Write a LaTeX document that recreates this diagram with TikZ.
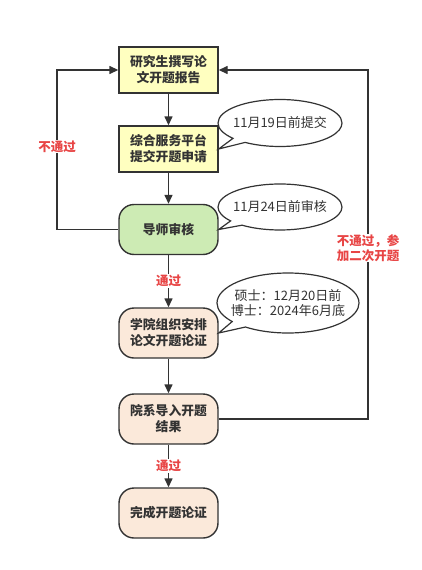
\documentclass[tikz,border=0pt]{standalone}
\usepackage{fontspec}
\setmainfont{Noto Sans CJK SC}
\usetikzlibrary{shapes.callouts,arrows.meta}
\definecolor{boxyellow}{HTML}{FFFFC0}
\definecolor{boxgreen}{HTML}{CDEBB4}
\definecolor{boxpeach}{HTML}{FBE9DA}
\definecolor{linegray}{HTML}{333333}
\definecolor{labelred}{HTML}{E84545}
\begin{document}
\begin{tikzpicture}[x=1pt,y=-1pt,
  base/.style={draw=linegray,line width=1.4pt,minimum width=99pt,minimum height=46pt,align=center,font=\fontsize{12.8}{16}\selectfont\bfseries,text=linegray,inner sep=2pt},
  sqbox/.style={base,fill=boxyellow},
  rbox/.style={base,rounded corners=15pt,minimum height=50pt},
  conn/.style={draw=linegray,line width=1.4pt,-{Triangle[length=9pt,width=8pt]}},
  lbl/.style={font=\fontsize{12.5}{14.5}\selectfont\bfseries,text=labelred,fill=white,inner sep=1pt,align=center},
  note/.style={ellipse callout,draw=linegray,line width=1.2pt,fill=white,text=linegray,font=\fontsize{13}{15}\selectfont,align=center,inner xsep=-12pt,inner ysep=-3pt}
]
\useasboundingbox (0,0) rectangle (422,570);
\node[sqbox] (n1) at (168.5,70) {研究生撰写论\\文开题报告};
\node[sqbox] (n2) at (168.5,149) {综合服务平台\\提交开题申请};
\node[rbox,fill=boxgreen] (n3) at (168.5,229.5) {导师审核};
\node[rbox,fill=boxpeach] (n4) at (168.5,333) {学院组织安排\\论文开题论证};
\node[rbox,fill=boxpeach] (n5) at (168.5,419) {院系导入开题\\结果};
\node[rbox,fill=boxpeach] (n6) at (168.5,513) {完成开题论证};

\node[note,minimum width=124pt,minimum height=47pt,callout absolute pointer={(n2.east)}] (c1) at (280,123) {11月19日前提交};
\node[note,minimum width=124pt,minimum height=46pt,callout absolute pointer={(n3.east)}] (c2) at (280,207) {11月24日前审核};
\node[note,minimum width=142pt,minimum height=60pt,callout absolute pointer={(n4.east)}] (c3) at (288,303) {硕士：12月20日前\\博士：2024年6月底};

\draw[conn] (n1) -- (n2);
\draw[conn] (n2) -- (n3);
\draw[conn] (n3) -- node[lbl] {通过} (n4);
\draw[conn] (n4) -- (n5);
\draw[conn] (n5) -- node[lbl] {通过} (n6);

\coordinate (lc1) at (57,229.5);
\coordinate (lc2) at (57,70);
\draw[conn] (n3.west) -- (lc1) -- node[lbl,pos=0.52] {不通过} (lc2) -- (n1.west);
\coordinate (rc1) at (368,419);
\coordinate (rc2) at (368,70);
\draw[conn] (n5.east) -- (rc1) -- node[lbl,pos=0.49] {不通过，参\\加二次开题} (rc2) -- (n1.east);
\end{tikzpicture}
\end{document}
